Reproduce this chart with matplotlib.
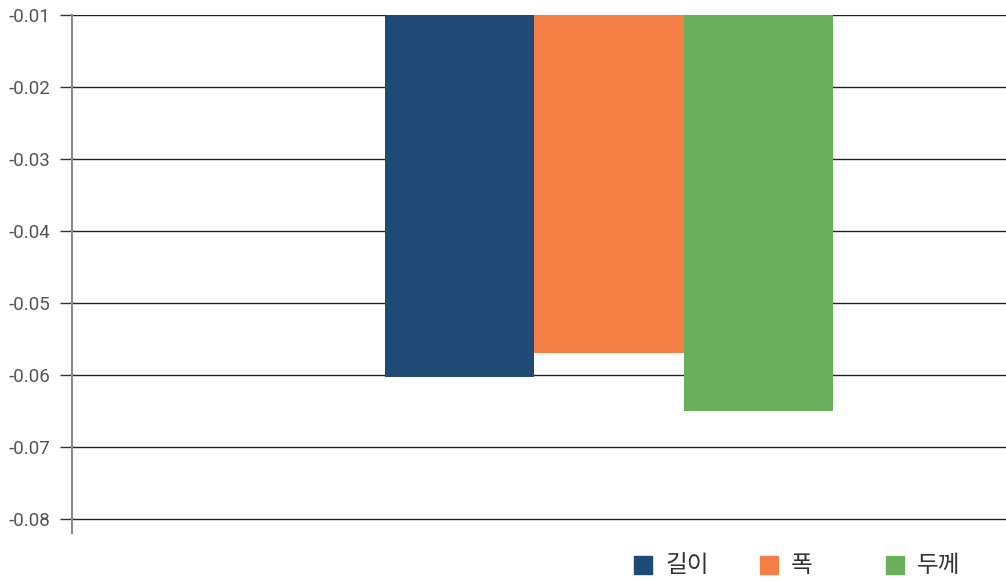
import matplotlib
matplotlib.use("Agg")
import matplotlib.pyplot as plt
import matplotlib.patches as mpatches
import numpy as np

plt.rcParams["font.family"] = ["Roboto", "Noto Sans CJK KR", "DejaVu Sans"]

series = ["길이", "폭", "두께"]
values = [-0.0602, -0.0569, -0.0649]
colors = ["#1f4a75", "#f37f45", "#6aaf5b"]
yticks = [-0.08, -0.07, -0.06, -0.05, -0.04, -0.03, -0.02, -0.01]

W, H = 1006, 581
fig = plt.figure(figsize=(W / 100, H / 100), dpi=100)
ax = fig.add_axes([72 / W, 1 - 533 / H, (1006 - 72) / W, (533 - 15) / H])

# one group of three bars, offsets from the group centre
width = 1.0
x = np.arange(len(series)) * width
ax.bar(x, values, width=width, color=colors, zorder=3)

ax.set_xlim(-2.597, 3.659)
ax.set_ylim(-0.0819, -0.01)
ax.set_yticks(yticks)
ax.set_yticklabels([f"{v:.2f}" for v in yticks], color="#555555", fontsize=13.5)
ax.set_xticks([])

ax.grid(axis="y", color="#222222", linewidth=1.0, zorder=1)
ax.tick_params(axis="y", length=8.6, width=1.0, color="#333333", pad=7)
for side in ["top", "right", "bottom"]:
    ax.spines[side].set_visible(False)
ax.spines["left"].set_color("#888888")
ax.spines["left"].set_linewidth(1.5)

# legend: equally spaced entries under the plot
for i, (name, col) in enumerate(zip(series, colors)):
    x0 = 634 + i * 126
    fig.add_artist(mpatches.Rectangle((x0 / W, 1 - 574 / H), 18 / W, 18 / H,
                                      transform=fig.transFigure, color=col))
    fig.text((x0 + 31) / W, 1 - 566 / H, name, fontsize=17, color="#333333",
             va="center", ha="left", family=["Noto Sans CJK KR", "DejaVu Sans"])

fig.savefig("out.png", dpi=100)
